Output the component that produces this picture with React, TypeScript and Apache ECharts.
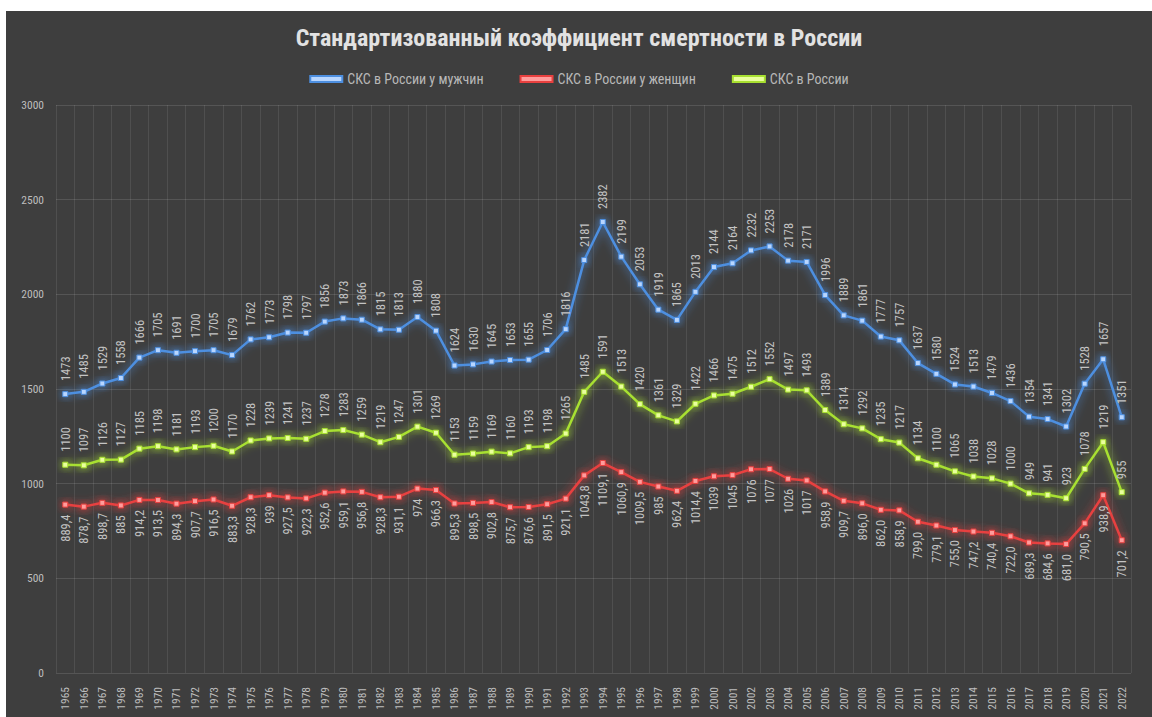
import React, { useEffect, useRef } from "react";
import * as echarts from "echarts";

const years: string[] = [];
for (let y = 1965; y <= 2022; y++) years.push(String(y));

const men = [
  1473, 1485, 1529, 1558, 1666, 1705, 1691, 1700, 1705, 1679,
  1762, 1773, 1798, 1797, 1856, 1873, 1866, 1815, 1813, 1880,
  1808, 1624, 1630, 1645, 1653, 1655, 1706, 1816, 2181, 2382,
  2199, 2053, 1919, 1865, 2013, 2144, 2164, 2232, 2253, 2178,
  2171, 1996, 1889, 1861, 1777, 1757, 1637, 1580, 1524, 1513,
  1479, 1436, 1354, 1341, 1302, 1528, 1657, 1351,
];

const total = [
  1100, 1097, 1126, 1127, 1185, 1198, 1181, 1193, 1200, 1170,
  1228, 1239, 1241, 1237, 1278, 1283, 1259, 1219, 1247, 1301,
  1269, 1153, 1159, 1169, 1160, 1193, 1198, 1265, 1485, 1591,
  1513, 1420, 1361, 1329, 1422, 1466, 1475, 1512, 1552, 1497,
  1493, 1389, 1314, 1292, 1235, 1217, 1134, 1100, 1065, 1038,
  1028, 1000, 949, 941, 923, 1078, 1219, 955,
];

const women = [
  889.4, 878.7, 898.7, 885, 914.2, 913.5, 894.3, 907.7, 916.5, 883.3,
  928.3, 939, 927.5, 922.3, 952.6, 959.1, 956.8, 928.3, 931.1, 974,
  966.3, 895.3, 898.5, 902.8, 875.7, 876.6, 891.5, 921.1, 1043.8, 1109.1,
  1060.9, 1009.5, 985, 962.4, 1014.4, 1039, 1045, 1076, 1077, 1026,
  1017, 958.9, 909.7, 896.0, 862.0, 858.9, 799.0, 779.1, 755.0, 747.2,
  740.4, 722.0, 689.3, 684.6, 681.0, 790.5, 938.9, 701.2,
];

const womenLabels = [
  "889,4", "878,7", "898,7", "885", "914,2", "913,5", "894,3", "907,7", "916,5", "883,3",
  "928,3", "939", "927,5", "922,3", "952,6", "959,1", "956,8", "928,3", "931,1", "974",
  "966,3", "895,3", "898,5", "902,8", "875,7", "876,6", "891,5", "921,1", "1043,8", "1109,1",
  "1060,9", "1009,5", "985", "962,4", "1014,4", "1039", "1045", "1076", "1077", "1026",
  "1017", "958,9", "909,7", "896,0", "862,0", "858,9", "799,0", "779,1", "755,0", "747,2",
  "740,4", "722,0", "689,3", "684,6", "681,0", "790,5", "938,9", "701,2",
];

const seriesNames = ["СКС в России у мужчин", "СКС в России у женщин", "СКС в России"];
const FONT = "'Liberation Sans Narrow', 'Arial Narrow', 'Roboto Condensed', 'Liberation Sans', sans-serif";

export default function App() {
  const ref = useRef<HTMLDivElement>(null);
  useEffect(() => {
    if (!ref.current) return;
    const chart = echarts.init(ref.current, undefined, { renderer: "svg" });
    const mk = (
      name: string,
      data: number[],
      line: string,
      marker: string,
      below: boolean,
      labels?: string[]
    ) => ({
      name,
      type: "line",
      data,
      symbol: "rect",
      symbolSize: 5,
      lineStyle: { color: line, width: 2.5, shadowColor: line, shadowBlur: 10 },
      itemStyle: { color: marker, borderColor: line, borderWidth: 1, shadowColor: line, shadowBlur: 8 },
      label: {
        show: true,
        position: below ? "bottom" : "top",
        distance: below ? 7 : 10,
        rotate: 90,
        align: below ? "right" : "left",
        verticalAlign: "middle",
        color: "#c4c4c4",
        fontSize: 12.5,
        fontFamily: FONT,
        formatter: labels ? (p: any) => labels[p.dataIndex] : undefined,
      },
      z: below ? 2 : 3,
    });
    chart.setOption({
      animation: false,
      backgroundColor: "#3e3e3e",
      title: {
        text: "Стандартизованный коэффициент смертности в России",
        left: "center",
        top: 10,
        textStyle: { color: "#e2e2e2", fontSize: 24, fontWeight: "bold", fontFamily: FONT },
      },
      legend: {
        top: 56,
        left: "center",
        itemGap: 36,
        itemWidth: 32,
        itemHeight: 6,
        textStyle: { color: "#b8b8b8", fontSize: 14, fontFamily: FONT },
        data: [
          { name: seriesNames[0], icon: "rect" },
          { name: seriesNames[1], icon: "rect" },
          { name: seriesNames[2], icon: "rect" },
        ],
      },
      grid: { left: 50, right: 21, top: 94, bottom: 44 },
      xAxis: {
        type: "category",
        data: years,
        boundaryGap: true,
        axisLine: { show: false },
        axisTick: { show: false },
        axisLabel: { color: "#bdbdbd", rotate: 90, fontSize: 11.5, fontFamily: FONT, interval: 0, margin: 14 },
        splitLine: { show: true, interval: 0, lineStyle: { color: "rgba(255,255,255,0.09)", width: 1 } },
      },
      yAxis: {
        type: "value",
        min: 0,
        max: 3000,
        interval: 500,
        axisLine: { show: false },
        axisTick: { show: false },
        axisLabel: { color: "#bdbdbd", fontSize: 11.5, fontFamily: FONT, margin: 12, formatter: (v: number) => String(v) },
        splitLine: { lineStyle: { color: "rgba(255,255,255,0.12)", width: 1 } },
      },
      series: [
        mk(seriesNames[0], men, "#4d8fe0", "#b8d6ff", false),
        mk(seriesNames[1], women, "#e8403f", "#ff9c9c", true, womenLabels),
        mk(seriesNames[2], total, "#a8e030", "#eaff9e", false),
      ],
    });
    return () => chart.dispose();
  }, []);
  return (
    <div
      ref={ref}
      style={{ position: "fixed", left: 6, top: 11, width: 1146, height: 706 }}
    />
  );
}
